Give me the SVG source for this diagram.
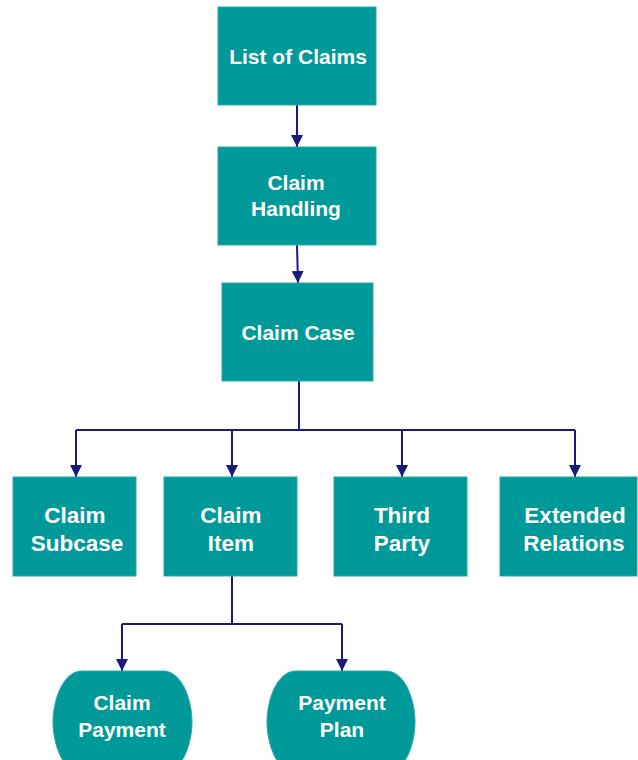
<svg xmlns="http://www.w3.org/2000/svg" width="638" height="760" viewBox="0 0 638 760">
<style>
.box{fill:#009999;stroke:#2aa8a8;stroke-width:1}
.t{font-family:"Liberation Sans",Arial,sans-serif;font-weight:bold;fill:#ffffff;text-anchor:middle}
.t1{font-size:21px}
.t2{font-size:22.5px}
.c{fill:none;stroke:#1a1a7a;stroke-width:2}
</style>
<defs>
<marker id="ah" markerWidth="12" markerHeight="12" refX="6" refY="11" orient="auto" markerUnits="userSpaceOnUse" viewBox="0 0 12 12">
<path d="M0,0 L12,0 L6,12 Z" fill="#1a1a7a" transform="rotate(-90 6 6)"/>
</marker>
<marker id="a" markerWidth="12" markerHeight="14" refX="12" refY="6" orient="auto" markerUnits="userSpaceOnUse" viewBox="0 0 12 12">
<path d="M0,0 L12,6 L0,12 Z" fill="#1a1a7a"/>
</marker>
</defs>
<rect width="638" height="760" fill="#ffffff"/>
<g id="connectors">
<path class="c" d="M297,105 L297,147" marker-end="url(#a)"/>
<path class="c" d="M297,245 L298,283" marker-end="url(#a)"/>
<path class="c" d="M299,381 L299,430"/>
<path class="c" d="M76,430 L575,430"/>
<path class="c" d="M76,430 L76,477" marker-end="url(#a)"/>
<path class="c" d="M232,430 L232,477" marker-end="url(#a)"/>
<path class="c" d="M402,430 L402,477" marker-end="url(#a)"/>
<path class="c" d="M575,430 L575,477" marker-end="url(#a)"/>
<path class="c" d="M232,576 L232,624"/>
<path class="c" d="M122,624 L342,624"/>
<path class="c" d="M122,624 L122,671" marker-end="url(#a)"/>
<path class="c" d="M342,624 L342,671" marker-end="url(#a)"/>
</g>
<g id="list-of-claims">
<rect class="box" x="218" y="7" width="158" height="98"/>
<text class="t t1" x="298" y="64">List of Claims</text>
</g>
<g id="claim-handling">
<rect class="box" x="218" y="147" width="158" height="98"/>
<text class="t t1" x="296" y="190">Claim</text>
<text class="t t1" x="296" y="216">Handling</text>
</g>
<g id="claim-case">
<rect class="box" x="222" y="283" width="151" height="98"/>
<text class="t t1" x="298" y="340">Claim Case</text>
</g>
<g id="claim-subcase">
<rect class="box" x="13" y="477" width="123" height="99"/>
<text class="t t2" x="75" y="523">Claim</text>
<text class="t t2" x="77" y="551">Subcase</text>
</g>
<g id="claim-item">
<rect class="box" x="164" y="477" width="133" height="99"/>
<text class="t t2" x="231" y="523">Claim</text>
<text class="t t2" x="231" y="551">Item</text>
</g>
<g id="third-party">
<rect class="box" x="334" y="477" width="133" height="99"/>
<text class="t t2" x="402" y="523">Third</text>
<text class="t t2" x="402" y="551">Party</text>
</g>
<g id="extended-relations">
<rect class="box" x="500" y="477" width="137" height="99"/>
<text class="t t2" x="575" y="523">Extended</text>
<text class="t t2" x="574" y="551">Relations</text>
</g>
<g id="claim-payment">
<path class="box" d="M82,671 L163,671 C182,671 192,700 192,722 C192,744 182,773 163,773 L82,773 C63,773 53,744 53,722 C53,700 63,671 82,671 Z"/>
<text class="t t1" x="122" y="710">Claim</text>
<text class="t t1" x="122" y="737">Payment</text>
</g>
<g id="payment-plan">
<path class="box" d="M296,671 L386,671 C405,671 415,700 415,722 C415,744 405,773 386,773 L296,773 C277,773 267,744 267,722 C267,700 277,671 296,671 Z"/>
<text class="t t1" x="342" y="710">Payment</text>
<text class="t t1" x="342" y="737">Plan</text>
</g>
</svg>
